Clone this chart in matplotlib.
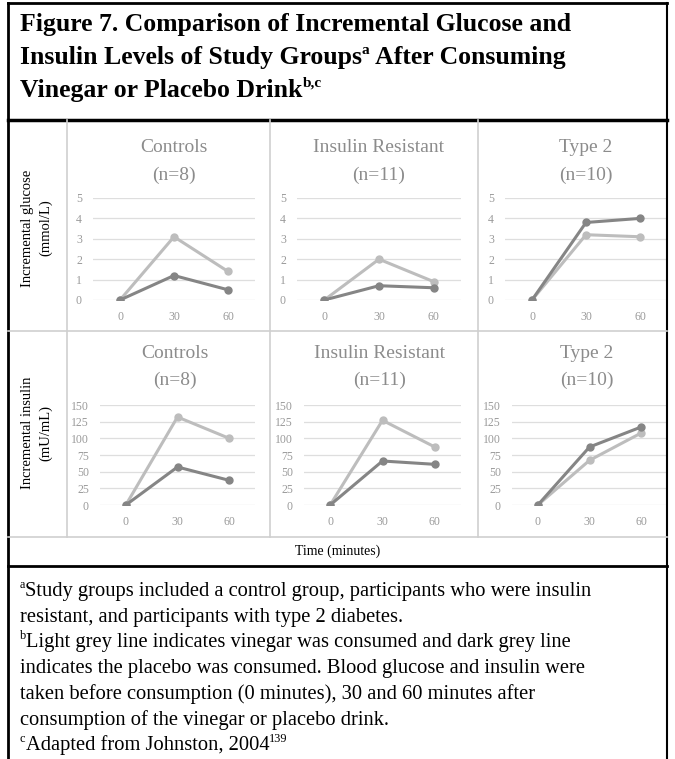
import matplotlib
matplotlib.use("Agg")
import matplotlib.pyplot as plt
from matplotlib.lines import Line2D

# --- datos ---
timepoints = ["0", "30", "60"]
groups = ["Controls\n(n=8)", "Insulin Resistant\n(n=11)", "Type 2\n(n=10)"]

glucose_vinegar = [[0, 3.1, 1.4], [0, 2.0, 0.9], [0, 3.2, 3.1]]
glucose_placebo = [[0, 1.2, 0.5], [0, 0.7, 0.6], [0, 3.8, 4.0]]
insulin_vinegar = [[0, 132, 100], [0, 127, 87], [0, 67, 108]]
insulin_placebo = [[0, 57, 37], [0, 66, 61], [0, 87, 117]]

glucose_ticks = [0, 1, 2, 3, 4, 5]
insulin_ticks = [0, 25, 50, 75, 100, 125, 150]

W, H = 675, 759
fig = plt.figure(figsize=(W / 100, H / 100), dpi=100)
plt.rcParams["font.family"] = ["Liberation Serif", "DejaVu Serif"]

LIGHT = "#bdbdbd"
DARK = "#858585"
GRID = "#dedede"


def fx(x):
    return x / W


def fy(y):
    return 1 - y / H


def rect(x0, y0, x1, y1):
    return [fx(x0), fy(y1), (x1 - x0) / W, (y1 - y0) / H]


def hline(y, x0, x1, color="black", lw=1.0):
    fig.add_artist(Line2D([fx(x0), fx(x1)], [fy(y), fy(y)], color=color, lw=lw))


def vline(x, y0, y1, color="black", lw=1.0):
    fig.add_artist(Line2D([fx(x), fx(x)], [fy(y0), fy(y1)], color=color, lw=lw))


renderer = fig.canvas.get_renderer()


def rich(x, y, segs, size, weight="normal"):
    # segs: lista de (texto, es_superindice); y = linea base en pixeles
    for s, sup in segs:
        fs = size * 0.6 if sup else size
        yy = y - size * 0.55 if sup else y
        t = fig.text(fx(x), fy(yy), s, fontsize=fs, fontweight=weight,
                     va="baseline", ha="left")
        x += t.get_window_extent(renderer).width


# --- cajas y lineas ---
vline(8, 3, 759, lw=2)
vline(667, 3, 759, lw=1.5)
hline(3, 8, 667, lw=2)
hline(120, 8, 667, lw=2.5)
hline(566, 8, 667, lw=2)

for x in [67, 270, 478]:
    vline(x, 120, 537, color="#cfcfcf", lw=1.2)
hline(331, 8, 667, color="#cfcfcf", lw=1.2)
hline(537, 8, 667, color="#cfcfcf", lw=1.2)

# --- titulo ---
rich(20, 31, [("Figure 7. Comparison of Incremental Glucose and", False)], 18.5, "bold")
rich(20, 64, [("Insulin Levels of Study Groups", False), ("a", True),
              (" After Consuming", False)], 18.5, "bold")
rich(20, 97, [("Vinegar or Placebo Drink", False), ("b,c", True)], 18.5, "bold")

# --- paneles ---
rows = [
    (glucose_vinegar, glucose_placebo, glucose_ticks, 5, 198, 300, 148,
     [(93, 255), (297, 461), (505, 667)]),
    (insulin_vinegar, insulin_placebo, insulin_ticks, 150, 405, 505, 353,
     [(100, 255), (304, 461), (512, 667)]),
]

for vin, pla, ticks, ymax, ytop, ybot, ytitle, xspans in rows:
    for i, (x0, x1) in enumerate(xspans):
        ax = fig.add_axes(rect(x0, ytop, x1, ybot))
        ax.set_facecolor("none")
        xs = range(len(timepoints))
        ax.plot(xs, vin[i], color=LIGHT, lw=2.2, marker="o", ms=5, zorder=3)
        ax.plot(xs, pla[i], color=DARK, lw=2.2, marker="o", ms=5, zorder=4)
        ax.set_xlim(-0.5, 2.5)
        ax.set_ylim(0, ymax)
        ax.set_xticks(list(xs))
        ax.set_xticklabels(timepoints)
        ax.set_yticks(ticks)
        ax.grid(axis="y", color=GRID, lw=0.9, zorder=0)
        ax.set_axisbelow(True)
        for sp in ax.spines.values():
            sp.set_visible(False)
        ax.tick_params(length=0, labelsize=8.5, labelcolor="#9a9a9a", pad=8)
        ax.tick_params(axis="y", pad=8)
        t1, t2 = groups[i].split("\n")
        cx = (xspans[i][0] + xspans[i][1]) / 2
        if ymax == 150:
            cx -= 3
        fig.text(fx(cx), fy(ytitle), t1, fontsize=14, color="#8c8c8c",
                 ha="center", va="center")
        fig.text(fx(cx), fy(ytitle + 27), t2, fontsize=14, color="#8c8c8c",
                 ha="center", va="center")

# --- etiquetas de filas ---
fig.text(fx(37), fy(228), "Incremental glucose\n(mmol/L)", rotation=90,
         fontsize=10.5, ha="center", va="center", linespacing=1.45)
fig.text(fx(37), fy(433), "Incremental insulin\n(mU/mL)", rotation=90,
         fontsize=10.5, ha="center", va="center", linespacing=1.45)
fig.text(fx(338), fy(551), "Time (minutes)", fontsize=10, ha="center", va="center")

# --- notas al pie ---
base = 596
step = 25.7
notes = [
    [("a", True), ("Study groups included a control group, participants who were insulin", False)],
    [("resistant, and participants with type 2 diabetes.", False)],
    [("b", True), ("Light grey line indicates vinegar was consumed and dark grey line", False)],
    [("indicates the placebo was consumed. Blood glucose and insulin were", False)],
    [("taken before consumption (0 minutes), 30 and 60 minutes after", False)],
    [("consumption of the vinegar or placebo drink.", False)],
    [("c", True), ("Adapted from Johnston, 2004", False), ("139", True)],
]
for k, segs in enumerate(notes):
    rich(20, base + k * step, segs, 14.8)

fig.savefig("out.png", dpi=100)
